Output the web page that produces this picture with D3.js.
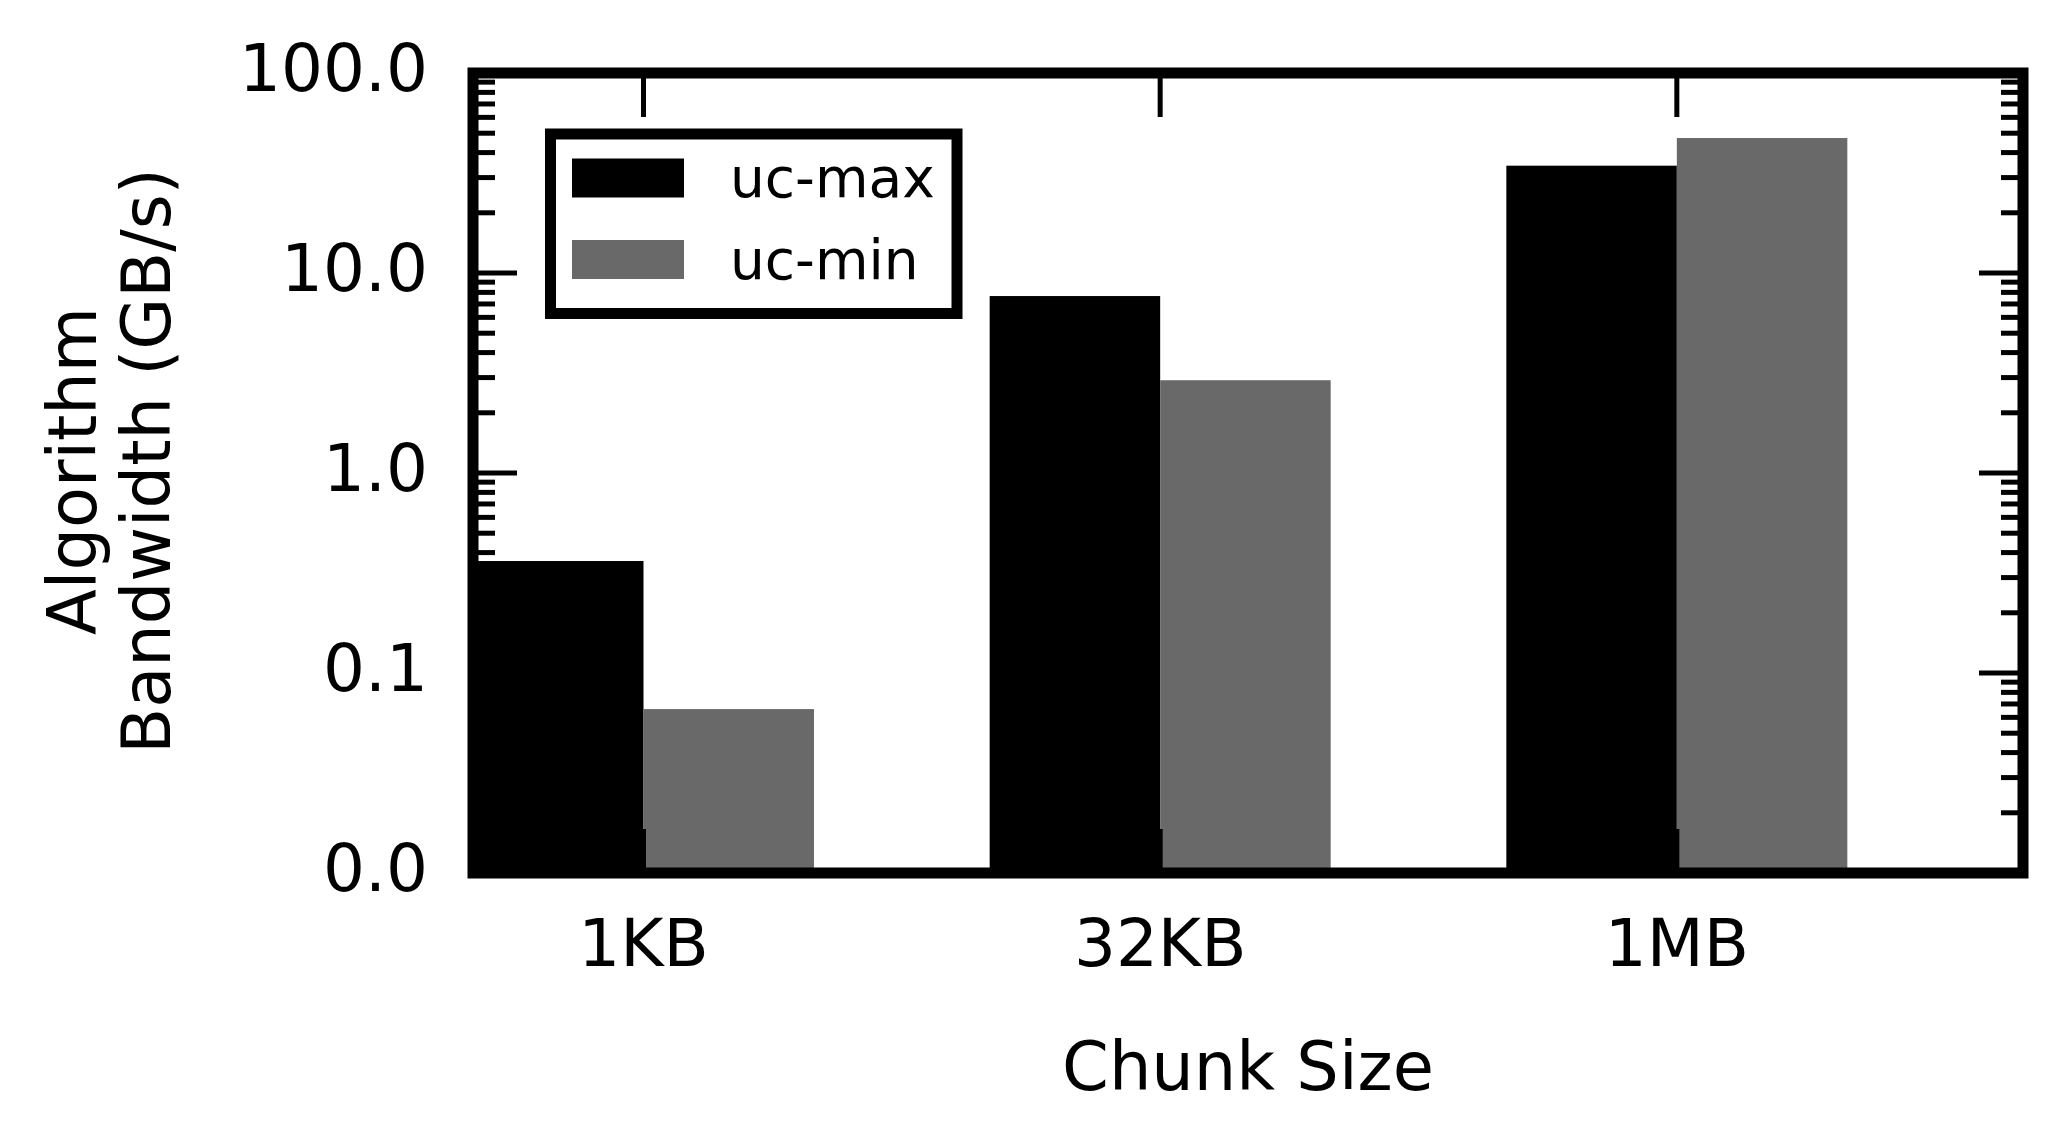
<!DOCTYPE html>
<html>
<head>
<meta charset="utf-8">
<script src="https://cdn.jsdelivr.net/npm/d3@7/dist/d3.min.js"></script>
<style>
  html, body { margin: 0; padding: 0; background: #ffffff; }
  svg { display: block; font-family: "DejaVu Sans", sans-serif; }
</style>
</head>
<body>
<svg id="chart" width="2063" height="1145"></svg>
<script>
// ---- data ----
const categories = ["1KB", "32KB", "1MB"];
const seriesNames = ["uc-max", "uc-min"];
const ucMax = [0.363, 7.67, 34.4];
const ucMin = [0.066, 2.91, 47.3];
const yTickValues = [0.01, 0.1, 1, 10, 100];
const yTickLabels = ["0.0", "0.1", "1.0", "10.0", "100.0"];
const xLabel = "Chunk Size";
const yLabelLines = ["Algorithm", "Bandwidth (GB/s)"];

// ---- layout ----
const W = 2063, H = 1145;
const plot = { left: 473, right: 2023, top: 73, bottom: 873 };
const barW = 0.33;
const xMin = -0.33, xMax = 2.67;
const colors = ["#000000", "#696969"];
const spineW = 11, tickW = 5, majorLen = 44, minorLen = 22;

const svg = d3.select("#chart");

const x = d3.scaleLinear().domain([xMin, xMax]).range([plot.left, plot.right]);
const y = d3.scaleLog().domain([0.01, 100]).range([plot.bottom, plot.top]);

const series = [ucMax, ucMin];
const bars = [];
series.forEach((vals, s) => {
  vals.forEach((v, i) => bars.push({ s, i, v }));
});

// bars
svg.append("g").selectAll("rect").data(bars).join("rect")
  .attr("x", d => x(d.s === 0 ? d.i - barW : d.i))
  .attr("width", d => x(barW) - x(0))
  .attr("y", d => y(d.v))
  .attr("height", d => y(0.01) - y(d.v))
  .attr("fill", d => colors[d.s]);

// minor y ticks
const minor = [];
for (let k = -2; k < 2; k++) for (let m = 2; m <= 9; m++) minor.push(m * Math.pow(10, k));

const tg = svg.append("g").attr("stroke", "#000").attr("stroke-width", tickW);
tg.selectAll("line.ml").data(minor).join("line").attr("class", "ml")
  .attr("x1", plot.left).attr("x2", plot.left + minorLen)
  .attr("y1", d => y(d)).attr("y2", d => y(d));
tg.selectAll("line.mr").data(minor).join("line").attr("class", "mr")
  .attr("x1", plot.right).attr("x2", plot.right - minorLen)
  .attr("y1", d => y(d)).attr("y2", d => y(d));
tg.selectAll("line.Ml").data(yTickValues).join("line").attr("class", "Ml")
  .attr("x1", plot.left).attr("x2", plot.left + majorLen)
  .attr("y1", d => y(d)).attr("y2", d => y(d));
tg.selectAll("line.Mr").data(yTickValues).join("line").attr("class", "Mr")
  .attr("x1", plot.right).attr("x2", plot.right - majorLen)
  .attr("y1", d => y(d)).attr("y2", d => y(d));
const catIdx = categories.map((c, i) => i);
tg.selectAll("line.xt").data(catIdx).join("line").attr("class", "xt")
  .attr("x1", d => x(d)).attr("x2", d => x(d))
  .attr("y1", plot.top).attr("y2", plot.top + majorLen);
tg.selectAll("line.xb").data(catIdx).join("line").attr("class", "xb")
  .attr("x1", d => x(d)).attr("x2", d => x(d))
  .attr("y1", plot.bottom).attr("y2", plot.bottom - majorLen);

// frame
svg.append("rect")
  .attr("x", plot.left).attr("y", plot.top)
  .attr("width", plot.right - plot.left).attr("height", plot.bottom - plot.top)
  .attr("fill", "none").attr("stroke", "#000").attr("stroke-width", spineW)
  .attr("stroke-linejoin", "miter");

// y tick labels
svg.append("g").selectAll("text").data(yTickValues).join("text")
  .attr("x", 428).attr("y", d => y(d) + 18)
  .attr("text-anchor", "end").attr("font-size", 66).attr("fill", "#000")
  .text((d, i) => yTickLabels[i]);

// x tick labels
svg.append("g").selectAll("text").data(categories).join("text")
  .attr("x", (d, i) => x(i)).attr("y", 966)
  .attr("text-anchor", "middle").attr("font-size", 66).attr("fill", "#000")
  .text(d => d);

// x axis label
svg.append("text")
  .attr("x", (plot.left + plot.right) / 2).attr("y", 1090)
  .attr("text-anchor", "middle").attr("font-size", 67).attr("fill", "#000")
  .text(xLabel);

// y axis label (two lines)
const ylg = svg.append("g").attr("transform", `translate(0, ${(plot.top + plot.bottom) / 2 - 2}) rotate(-90)`);
ylg.selectAll("text").data(yLabelLines).join("text")
  .attr("x", (d, i) => i * 10).attr("y", (d, i) => 96 + i * 74)
  .attr("text-anchor", "middle").attr("font-size", 67).attr("fill", "#000")
  .text(d => d);

// legend
const lg = svg.append("g");
lg.append("rect").attr("x", 550.5).attr("y", 134).attr("width", 957 - 550.5).attr("height", 313.5 - 134)
  .attr("fill", "#fff").attr("stroke", "#000").attr("stroke-width", spineW);
const items = lg.selectAll("g.item").data(seriesNames).join("g").attr("class", "item")
  .attr("transform", (d, i) => `translate(0, ${i * 81.5})`);
items.append("rect").attr("x", 572).attr("y", 158.5).attr("width", 112).attr("height", 39)
  .attr("fill", (d, i) => colors[i]);
items.append("text").attr("x", 730).attr("y", 197).attr("font-size", 55).attr("fill", "#000")
  .text(d => d);
</script>
</body>
</html>
